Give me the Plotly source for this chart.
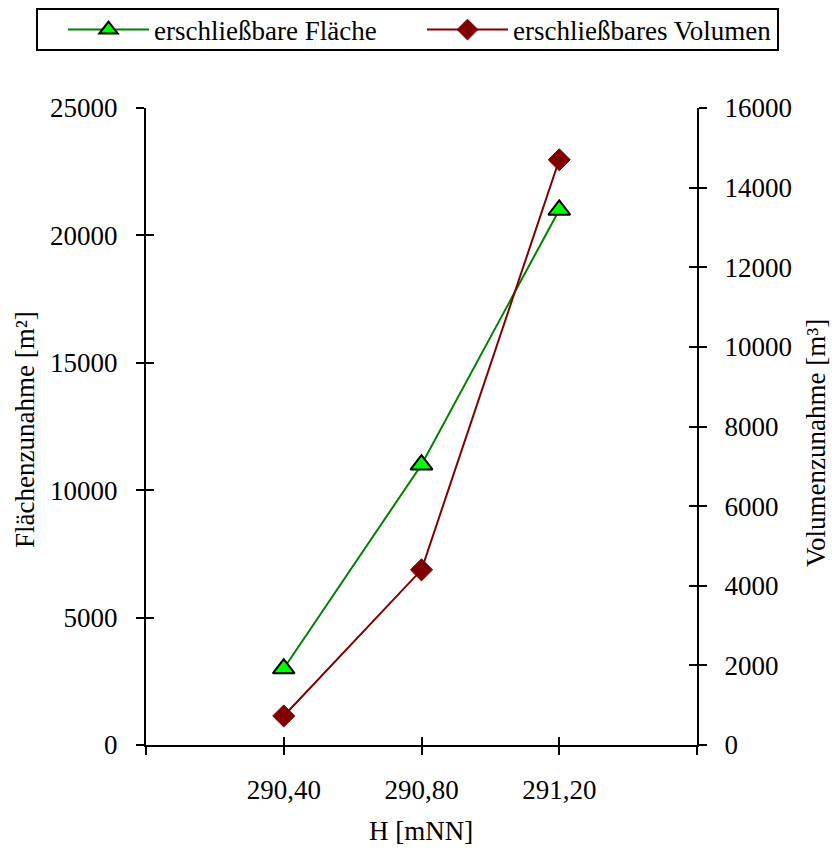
import plotly.graph_objects as go

# ---- data ----
H_values = [290.4, 290.8, 291.2]
flaeche = [3000, 11000, 21000]          # m², left axis
volumen = [730, 4400, 14700]            # m³, right axis
x_tickvals = [290.0, 290.4, 290.8, 291.2, 291.6]
x_ticktext = ["", "290,40", "290,80", "291,20", ""]
y1_tickvals = [0, 5000, 10000, 15000, 20000, 25000]
y2_tickvals = [0, 2000, 4000, 6000, 8000, 10000, 12000, 14000, 16000]

FONT = "Liberation Serif, Times New Roman, serif"
FS = 27
W, H = 832, 852
ML, MR, MT, MB = 146, 135, 108, 107
PW, PH = W - ML - MR, H - MT - MB


def px_x(px):
    return (px - ML) / PW


def px_y(py):
    return (H - MB - py) / PH


fig = go.Figure()
fig.add_trace(go.Scatter(
    x=H_values, y=flaeche, name="erschließbare Fläche", mode="lines+markers",
    line=dict(color="#008000", width=2),
    marker=dict(symbol="triangle-up", size=19, color="#00FF00",
                line=dict(color="black", width=2)),
    yaxis="y", xaxis="x", legend="legend"))
fig.add_trace(go.Scatter(
    x=H_values, y=volumen, name="erschließbares Volumen", mode="lines+markers",
    line=dict(color="#800000", width=2),
    marker=dict(symbol="diamond", size=17, color="#800000",
                line=dict(color="#800000", width=1)),
    yaxis="y2", xaxis="x", legend="legend2"))

xr = [290.0, 291.6]
common = dict(showgrid=False, zeroline=False, automargin=False,
              tickfont=dict(family=FONT, size=FS, color="black"),
              tickcolor="black", tickwidth=2, ticklen=8, tickformat="d")
inner = dict(showticklabels=False, showline=False, showgrid=False, zeroline=False,
             automargin=False, tickcolor="black", tickwidth=2, ticklen=8, ticks="inside")
leg = dict(orientation="h", xanchor="left", yanchor="middle", xref="paper", yref="paper",
           borderwidth=0, bgcolor="rgba(0,0,0,0)", itemwidth=81,
           font=dict(family=FONT, size=FS, color="black"))

fig.update_layout(
    width=W, height=H,
    margin=dict(l=ML, r=MR, t=MT, b=MB, autoexpand=False),
    paper_bgcolor="white", plot_bgcolor="white",
    font=dict(family=FONT, size=FS, color="black"),
    showlegend=True,
    legend=dict(x=px_x(63), y=px_y(30), **leg),
    legend2=dict(x=px_x(422), y=px_y(30), **leg),
    xaxis=dict(range=xr, tickvals=x_tickvals, ticktext=x_ticktext, ticks="outside",
               showline=True, linecolor="black", linewidth=2, ticklabelstandoff=12,
               **common),
    xaxis2=dict(range=xr, tickvals=x_tickvals, overlaying="x", **inner),
    yaxis=dict(range=[0, 25000], tickvals=y1_tickvals, ticks="outside",
               showline=True, linecolor="black", linewidth=2, ticklabelstandoff=13,
               **common),
    yaxis2=dict(range=[0, 16000], tickvals=y2_tickvals, ticks="outside", side="right",
                overlaying="y", showline=True, linecolor="black", linewidth=2,
                ticklabelstandoff=12, **common),
    yaxis3=dict(range=[0, 25000], tickvals=y1_tickvals, overlaying="y", **inner),
    yaxis4=dict(range=[0, 16000], tickvals=y2_tickvals, overlaying="y", side="right", **inner),
)

# empty traces that activate the overlay axes used for the inner half of the crossing ticks
fig.add_trace(go.Scatter(x=[None], y=[None], xaxis="x2", yaxis="y3", showlegend=False, hoverinfo="skip"))
fig.add_trace(go.Scatter(x=[None], y=[None], xaxis="x2", yaxis="y4", showlegend=False, hoverinfo="skip"))

# legend frame
fig.add_shape(type="rect", xref="paper", yref="paper",
              x0=px_x(37), x1=px_x(778), y0=px_y(50), y1=px_y(9),
              line=dict(color="black", width=2), fillcolor="rgba(0,0,0,0)", layer="below")

fig.add_annotation(text="Flächenzunahme [m²]", textangle=-90, xref="paper", yref="paper",
                   x=px_x(25), y=px_y(430), showarrow=False,
                   xanchor="center", yanchor="middle", font=dict(family=FONT, size=FS))
fig.add_annotation(text="Volumenzunahme [m³]", textangle=-90, xref="paper", yref="paper",
                   x=px_x(816), y=px_y(443), showarrow=False,
                   xanchor="center", yanchor="middle", font=dict(family=FONT, size=FS))
fig.add_annotation(text="H [mNN]", xref="paper", yref="paper",
                   x=px_x(421), y=px_y(831), showarrow=False,
                   xanchor="center", yanchor="middle", font=dict(family=FONT, size=FS))

fig.write_html("out.html", config={"displayModeBar": False},
               post_script="document.body.style.margin='0px';")
